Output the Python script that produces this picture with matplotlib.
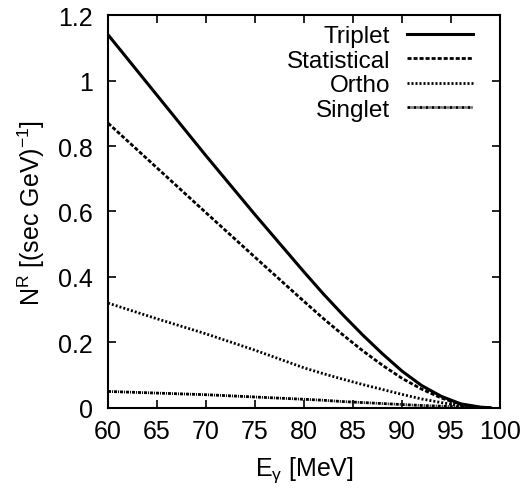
import numpy as np
import matplotlib
matplotlib.use('Agg')
import matplotlib.pyplot as plt

plt.rcParams['font.family'] = ['Liberation Sans', 'DejaVu Sans']
plt.rcParams['mathtext.default'] = 'regular'

# Photon energy (MeV) and spectra
energy = [60, 65, 70, 75, 80, 82, 84, 86, 88, 90, 92, 94, 96, 98, 99]
triplet = [1.14, 0.955, 0.77, 0.59, 0.415, 0.347, 0.283, 0.222, 0.165, 0.112,
           0.068, 0.035, 0.012, 0.002, 0.0]
statistical = [0.87, 0.733, 0.596, 0.46, 0.325, 0.272, 0.222, 0.174, 0.13, 0.09,
               0.057, 0.03, 0.01, 0.001, 0.0]
ortho = [0.32, 0.272, 0.226, 0.176, 0.122, 0.104, 0.087, 0.071, 0.056, 0.041,
         0.027, 0.016, 0.006, 0.001, 0.0]
singlet = [0.05, 0.045, 0.04, 0.033, 0.026, 0.023, 0.019, 0.016, 0.013, 0.01,
           0.007, 0.005, 0.003, 0.001, 0.0]

fig = plt.figure(figsize=(5.22, 4.89), dpi=100)
ax = fig.add_axes([0.207, 0.164, 0.751, 0.803])

ax.plot(energy, triplet, color='black', lw=2.2, label='Triplet')
ax.plot(energy, statistical, color='black', lw=2.0, dashes=(1.45, 0.72), label='Statistical')
ax.plot(energy, ortho, color='black', lw=2.0, dashes=(0.72, 0.72), label='Ortho')
ax.plot(energy, singlet, color='black', lw=2.0, dashes=(1.08, 0.36, 0.36, 0.36), label='Singlet')

ax.set_xlim(60, 100)
ax.set_ylim(0, 1.2)
ax.set_xticks(np.arange(60, 101, 5))
ax.set_yticks([0, 0.2, 0.4, 0.6, 0.8, 1.0, 1.2])
ax.set_yticklabels(['0', '0.2', '0.4', '0.6', '0.8', '1', '1.2'])
ax.tick_params(direction='in', top=True, right=True, length=6, width=1.2,
               labelsize=18)
ax.tick_params(axis='x', pad=8)
ax.tick_params(axis='y', pad=11)
for s in ax.spines.values():
    s.set_linewidth(1.5)

ax.set_xlabel(r'E$_\gamma$ [MeV]', fontsize=18, labelpad=8)
ax.set_ylabel(r'N$^R$ [(sec GeV)$^{-1}$]', fontsize=18, labelpad=8)

ax.legend(loc='upper right', frameon=False, markerfirst=False, fontsize=17.5,
          handlelength=2.7, handletextpad=0.7, labelspacing=0.1,
          bbox_to_anchor=(0.93, 0.974), borderaxespad=0.0, borderpad=0.0)

fig.savefig('out.png', dpi=100)
